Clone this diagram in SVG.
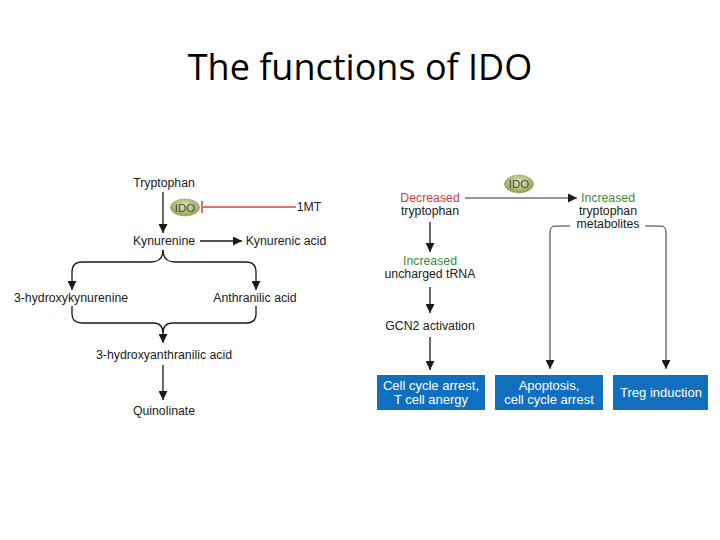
<svg xmlns="http://www.w3.org/2000/svg" width="720" height="540" viewBox="0 0 720 540">
<defs>
<marker id="ah" viewBox="0 0 10 10" refX="10" refY="5" markerWidth="9" markerHeight="9" markerUnits="userSpaceOnUse" orient="auto">
<path d="M0,0 L10,5 L0,10 z" fill="#1a1a1a"/>
</marker>
<radialGradient id="ido" cx="50%" cy="40%" r="60%">
<stop offset="0" stop-color="#dfe7b8"/>
<stop offset="0.6" stop-color="#b3c07a"/>
<stop offset="1" stop-color="#8d9c52"/>
</radialGradient>
<style>
.t{font-family:"Liberation Sans",Arial,sans-serif;font-size:12.3px;fill:#1a1a1a;text-anchor:middle}
.red{fill:#c8403a}
.grn{fill:#3d8c3d}
.w{fill:#ffffff;font-size:13px}
.i{fill:#444;font-size:11.5px}
.ln{fill:none;stroke:#1a1a1a;stroke-width:1.3}
.lt{fill:none;stroke:#333;stroke-width:1}
.box{fill:#1170bd}
.e{fill:url(#ido);stroke:#8d9c52;stroke-width:0.6}
</style>
</defs>
<rect width="720" height="540" fill="#ffffff"/>
<text x="360" y="80" style="font-family:'Open Sans','Noto Sans',sans-serif;font-size:36px;fill:#000" text-anchor="middle">The functions of IDO</text>

<g id="connectors">
<path class="ln" d="M163,192 L163,233" marker-end="url(#ah)"/>
<path fill="none" stroke="#d04a40" stroke-width="1.3" d="M203,207 L296,207"/>
<path fill="none" stroke="#d04a40" stroke-width="1.6" d="M202,201 L202,213"/>
<path class="ln" d="M200,241 L242,241" marker-end="url(#ah)"/>
<path class="ln" d="M163,250 Q163,262 151,262 L82,262 Q72,262 72,272 L72,290" marker-end="url(#ah)"/>
<path class="ln" d="M163,250 Q163,262 175,262 L246,262 Q256,262 256,272 L256,290" marker-end="url(#ah)"/>
<path class="ln" d="M72,306 L72,314 Q72,323 82,323 L153,323 Q163,323 163,333 L163,343" marker-end="url(#ah)"/>
<path class="ln" d="M256,306 L256,314 Q256,323 246,323 L173,323 Q163,323 163,333"/>
<path class="ln" d="M163,365 L163,400" marker-end="url(#ah)"/>

<path class="lt" d="M465,198 L577,198" marker-end="url(#ah)"/>
<path class="ln" d="M430,222 L430,252" marker-end="url(#ah)"/>
<path class="ln" d="M430,287 L430,313" marker-end="url(#ah)"/>
<path class="ln" d="M430,337 L430,370" marker-end="url(#ah)"/>
<path class="lt" d="M570,226 L556,226 Q550,226 550,232 L550,369" marker-end="url(#ah)"/>
<path class="lt" d="M645,226 L660,226 Q666,226 666,232 L666,369" marker-end="url(#ah)"/>
</g>

<g id="tryptophan"><text class="t" x="164" y="187">Tryptophan</text></g>
<g id="ido-left"><ellipse class="e" cx="185" cy="207.5" rx="14.5" ry="8.5"/><text class="t i" x="185" y="211.5">IDO</text></g>
<g id="mt"><text class="t" x="309" y="211">1MT</text></g>
<g id="kynurenine"><text class="t" x="164" y="245">Kynurenine</text></g>
<g id="kynurenic"><text class="t" x="286" y="245">Kynurenic acid</text></g>
<g id="hk"><text class="t" x="71" y="302">3-hydroxykynurenine</text></g>
<g id="anthranilic"><text class="t" x="255" y="302">Anthranilic acid</text></g>
<g id="haa"><text class="t" x="164" y="359">3-hydroxyanthranilic acid</text></g>
<g id="quinolinate"><text class="t" x="164" y="415">Quinolinate</text></g>

<g id="dec-trp"><text class="t red" x="430" y="202">Decreased</text><text class="t" x="430" y="215">tryptophan</text></g>
<g id="ido-right"><ellipse class="e" cx="519" cy="184" rx="14.5" ry="9"/><text class="t i" x="519" y="188">IDO</text></g>
<g id="inc-met"><text class="t grn" x="608" y="202">Increased</text><text class="t" x="608" y="215">tryptophan</text><text class="t" x="608" y="228">metabolites</text></g>
<g id="inc-trna"><text class="t grn" x="430" y="265">Increased</text><text class="t" x="430" y="278">uncharged tRNA</text></g>
<g id="gcn2"><text class="t" x="430" y="330">GCN2 activation</text></g>
<g id="box1"><rect class="box" x="377" y="375" width="108" height="35"/><text class="t w" x="431" y="390">Cell cycle arrest,</text><text class="t w" x="431" y="404">T cell anergy</text></g>
<g id="box2"><rect class="box" x="495" y="375" width="108" height="35"/><text class="t w" x="549" y="390">Apoptosis,</text><text class="t w" x="549" y="404">cell cycle arrest</text></g>
<g id="box3"><rect class="box" x="613" y="375" width="95" height="35"/><text class="t w" x="661" y="397">Treg induction</text></g>
</svg>
